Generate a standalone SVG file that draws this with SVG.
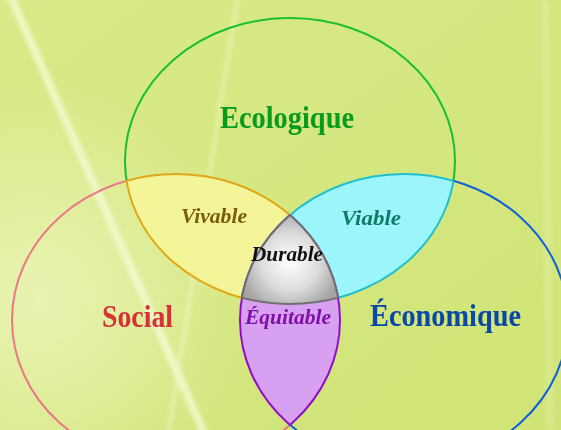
<svg xmlns="http://www.w3.org/2000/svg" width="561" height="430" viewBox="0 0 561 430">
<style>
.big{font-family:"Liberation Serif","Times New Roman",serif;font-weight:bold;font-size:32px}
.sm{font-family:"Liberation Serif","Times New Roman",serif;font-weight:bold;font-style:italic;font-size:22px}
</style>
<defs>
<ellipse id="eE" cx="290" cy="161" rx="165" ry="143"/>
<ellipse id="eS" cx="176" cy="320" rx="164" ry="146"/>
<ellipse id="eC" cx="404" cy="320" rx="164" ry="146"/>
<clipPath id="cE"><use href="#eE"/></clipPath>
<clipPath id="cS"><use href="#eS"/></clipPath>
<clipPath id="cC"><use href="#eC"/></clipPath>
<mask id="mE"><rect width="561" height="430" fill="#fff"/><use href="#eS" fill="#000"/><use href="#eC" fill="#000"/></mask>
<mask id="mS"><rect width="561" height="430" fill="#fff"/><use href="#eE" fill="#000"/><use href="#eC" fill="#000"/></mask>
<mask id="mC"><rect width="561" height="430" fill="#fff"/><use href="#eE" fill="#000"/><use href="#eS" fill="#000"/></mask>
<radialGradient id="gGray" cx="290" cy="262" r="52" gradientUnits="userSpaceOnUse">
<stop offset="0" stop-color="#ffffff"/><stop offset="0.55" stop-color="#dcdcdc"/><stop offset="1" stop-color="#a4a4a4"/>
</radialGradient>
<radialGradient id="gLeft" cx="40" cy="300" r="220" gradientUnits="userSpaceOnUse">
<stop offset="0" stop-color="#f2f8c8" stop-opacity="0.7"/><stop offset="1" stop-color="#f2f8c8" stop-opacity="0"/>
</radialGradient>
<linearGradient id="gBg" x1="0" y1="0" x2="1" y2="1">
<stop offset="0" stop-color="#d9ea88"/><stop offset="1" stop-color="#d0e476"/>
</linearGradient>
<filter id="blur"><feGaussianBlur stdDeviation="2"/></filter>
</defs>

<g id="background">
<rect width="561" height="430" fill="url(#gBg)"/>
<rect width="561" height="430" fill="url(#gLeft)"/>
<g filter="url(#blur)" stroke="#f6fcd8" fill="none">
<line x1="10" y1="-5" x2="205" y2="435" stroke-width="8" opacity="0.75"/>
<line x1="238" y1="-5" x2="168" y2="435" stroke-width="4" opacity="0.45"/>
<line x1="545" y1="0" x2="550" y2="430" stroke-width="6" opacity="0.25"/>
</g>
</g>

<g id="outlines" fill="none" stroke-width="2">
<use href="#eE" stroke="#18c030" mask="url(#mE)"/>
<use href="#eS" stroke="#e87a88" mask="url(#mS)"/>
<use href="#eC" stroke="#1060d8" mask="url(#mC)"/>
</g>

<g id="vivable">
<g clip-path="url(#cE)"><use href="#eS" fill="#f4f598"/></g>
<g fill="none" stroke="#e0a818" stroke-width="2">
<use href="#eE" clip-path="url(#cS)"/>
<use href="#eS" clip-path="url(#cE)"/>
</g>
</g>

<g id="viable">
<g clip-path="url(#cE)"><use href="#eC" fill="#9cf5fa"/></g>
<g fill="none" stroke="#20c0d0" stroke-width="2">
<use href="#eE" clip-path="url(#cC)"/>
<use href="#eC" clip-path="url(#cE)"/>
</g>
</g>

<g id="equitable">
<g clip-path="url(#cS)"><use href="#eC" fill="#d8a0f0"/></g>
<g fill="none" stroke="#9010c8" stroke-width="2">
<use href="#eS" clip-path="url(#cC)"/>
<use href="#eC" clip-path="url(#cS)"/>
</g>
</g>

<g id="durable">
<g clip-path="url(#cE)"><g clip-path="url(#cS)"><use href="#eC" fill="url(#gGray)"/></g></g>
<g fill="none" stroke="#707070" stroke-width="2">
<g clip-path="url(#cS)"><use href="#eE" clip-path="url(#cC)"/></g>
<g clip-path="url(#cE)"><use href="#eS" clip-path="url(#cC)"/></g>
<g clip-path="url(#cE)"><use href="#eC" clip-path="url(#cS)"/></g>
</g>
</g>

<g id="labels">
<text class="big" x="220" y="128" fill="#0a9a20" textLength="134" lengthAdjust="spacingAndGlyphs">Ecologique</text>
<text class="big" x="102" y="327" fill="#d83038" textLength="71" lengthAdjust="spacingAndGlyphs">Social</text>
<text class="big" x="370" y="326" fill="#0a48a8" textLength="151" lengthAdjust="spacingAndGlyphs">Économique</text>
<text class="sm" x="181" y="223" fill="#7a5c10" textLength="66" lengthAdjust="spacingAndGlyphs">Vivable</text>
<text class="sm" x="341" y="225" fill="#107a68" textLength="60" lengthAdjust="spacingAndGlyphs">Viable</text>
<text class="sm" x="251" y="261" fill="#101010" textLength="72" lengthAdjust="spacingAndGlyphs">Durable</text>
<text class="sm" x="245" y="324" fill="#8010a8" textLength="86" lengthAdjust="spacingAndGlyphs">Équitable</text>
</g>
</svg>
